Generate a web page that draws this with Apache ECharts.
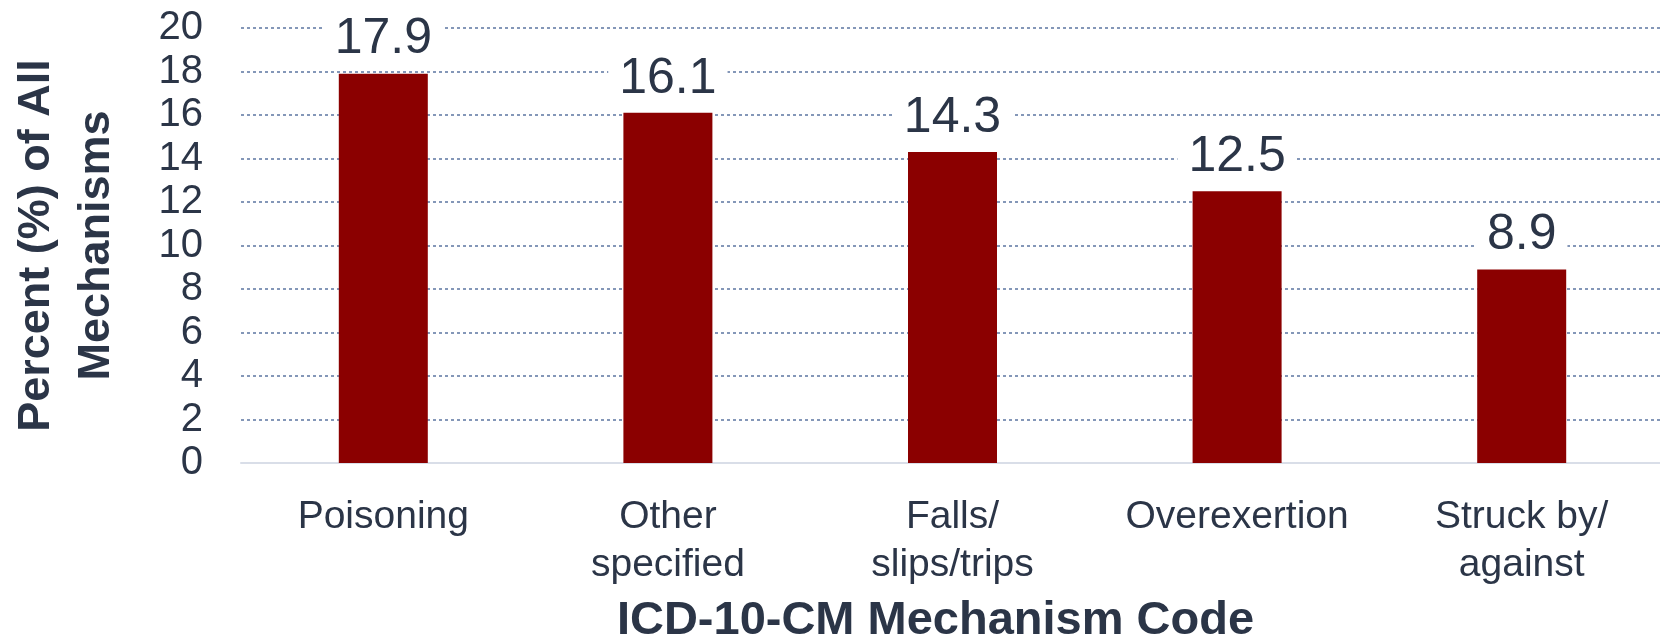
<!DOCTYPE html>
<html>
<head>
<meta charset="utf-8">
<script src="https://cdn.jsdelivr.net/npm/echarts@6/dist/echarts.min.js"></script>
<style>
  html, body { margin: 0; padding: 0; background: #fff; }
  #chart { width: 1660px; height: 644px; }
</style>
</head>
<body>
<div id="chart"></div>
<script>
// mechanism categories (x axis)
const categories = ['Poisoning', 'Other\nspecified', 'Falls/\nslips/trips', 'Overexertion', 'Struck by/\nagainst'];
// percent of all mechanisms
const percents = [17.9, 16.1, 14.3, 12.5, 8.9];
const yTicks = { min: 0, max: 20, step: 2 };

const textColor = '#2b3547';
const font = '"Liberation Sans", Arial, sans-serif';

let myChart = echarts.init(document.getElementById('chart'));
let option = {
    animation: false,
    backgroundColor: '#fff',
    grid: {
        left: 241,
        right: -4,
        top: 28,
        bottom: 181,
        outerBoundsMode: 'none'   // keep the plot where it is, labels sit outside
    },
    xAxis: {
        type: 'category',
        data: categories,
        axisTick: { show: false },
        axisLine: {
            lineStyle: { color: '#d9dee8', width: 2 }
        },
        axisLabel: {
            interval: 0,
            margin: 30,
            color: textColor,
            fontFamily: font,
            fontSize: 39,
            lineHeight: 48
        },
        name: 'ICD-10-CM Mechanism Code',
        nameLocation: 'middle',
        nameGap: 133,
        nameTextStyle: {
            color: textColor,
            fontFamily: font,
            fontSize: 47,
            fontWeight: 'bold',
            lineHeight: 50,
            padding: [0, 34, 0, 0]   // title sits a bit left of plot centre
        }
    },
    yAxis: {
        type: 'value',
        min: yTicks.min,
        max: yTicks.max,
        interval: yTicks.step,
        axisLine: { show: false },
        axisTick: { show: false },
        splitLine: {
            lineStyle: { color: '#8497b8', width: 2, type: [3, 3] }
        },
        axisLabel: {
            margin: 38,
            color: textColor,
            fontFamily: font,
            fontSize: 40
        },
        name: 'Percent (%) of All\nMechanisms',
        nameLocation: 'middle',
        nameGap: 114,
        nameRotate: 90,
        nameTextStyle: {
            color: textColor,
            fontFamily: font,
            fontSize: 45,
            fontWeight: 'bold',
            lineHeight: 60
        }
    },
    series: [
        {
            type: 'bar',
            data: percents,
            barWidth: 89,
            itemStyle: { color: '#8b0000' },
            label: {
                show: true,
                position: 'top',
                distance: 9,
                color: textColor,
                fontFamily: font,
                fontSize: 50,
                backgroundColor: '#fff',
                padding: [4, 11, 0, 11]
            }
        }
    ]
};
myChart.setOption(option);
</script>
</body>
</html>
